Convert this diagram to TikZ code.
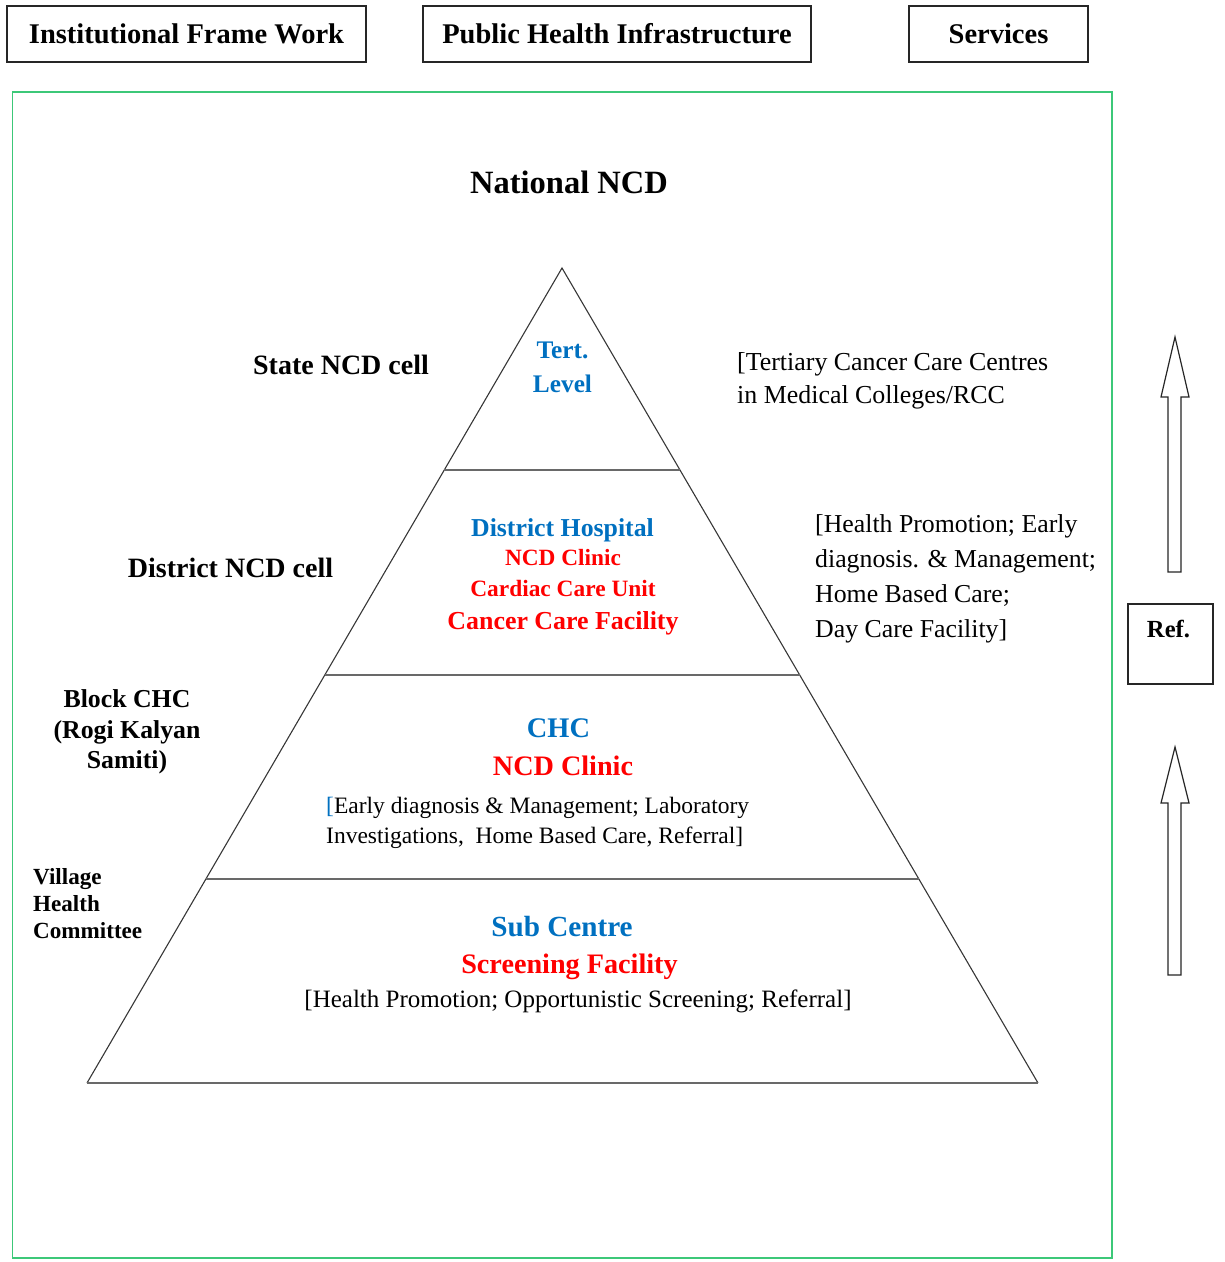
\documentclass[tikz,border=0pt]{standalone}
\usepackage{fontspec}
\setmainfont{Liberation Serif}
\usetikzlibrary{calc}
\definecolor{tierblue}{RGB}{0,112,192}
\definecolor{tierred}{RGB}{255,0,0}
\definecolor{framegreen}{RGB}{60,200,120}
\definecolor{edgegray}{RGB}{55,55,55}
\definecolor{bandgray}{RGB}{105,105,105}
\newcommand\fsz[2]{\fontsize{#1}{#2}\selectfont}

\begin{document}
\begin{tikzpicture}[x=1pt,y=-1pt,
  topbox/.style={draw=black!85, line width=1.2pt, inner sep=0pt,
    minimum height=56pt, font=\bfseries\fsz{28.5}{34},
    text height=18pt, text depth=0pt},
  lbl/.style={inner sep=0pt, anchor=base},
  lblw/.style={inner sep=0pt, anchor=base west, align=left},
  side/.style={draw=edgegray, line width=1.1pt},
  band/.style={draw=bandgray, line width=1.8pt},
  hollow/.style={draw=black!85, line width=1.2pt, fill=white, line join=miter}
]
\useasboundingbox (0,0) rectangle (1225,1262);

% header boxes
\node[topbox, minimum width=359pt] (ifw) at (186.5,34) {Institutional Frame Work};
\node[topbox, minimum width=388pt] (phi) at (617,34) {Public Health Infrastructure};
\node[topbox, minimum width=179pt] (srv) at (998.5,34) {Services};

% outer frame
\draw[framegreen, line width=1.2pt] (12.5,92) rectangle (1112,1258);

% pyramid
\coordinate (apex) at (562,268);
\coordinate (bl) at (87,1083);
\coordinate (br) at (1038,1083);
\draw[side] (bl) -- (apex) -- (br);
\draw[band] (bl) -- (br);
\foreach \t/\n in {0.2479/a, 0.4994/b, 0.7497/c}{
  \coordinate (l\n) at ($(apex)!\t!(bl)$);
  \coordinate (r\n) at ($(apex)!\t!(br)$);
  \draw[band] (l\n) -- (r\n);
}

% title
\node[lbl, font=\bfseries\fsz{32.5}{39}] (national) at (569,193) {National NCD};

% institutional framework labels (multi-line nodes sit on their last baseline)
\node[lbl, font=\bfseries\fsz{28}{34}] (statecell) at (341,374) {State NCD cell};
\node[lbl, font=\bfseries\fsz{28}{34}] (distcell) at (230.5,577) {District NCD cell};
\node[lbl, align=center, font=\bfseries\fsz{25.8}{30.5}] (blockchc) at (127,768.5)
  {Block CHC\\(Rogi Kalyan\\Samiti)};
\node[lblw, font=\bfseries\fsz{23.1}{27}] (vhc) at (33,938)
  {Village\\Health\\Committee};

% tertiary level
\node[lbl, align=center, text=tierblue, font=\bfseries\fsz{25.3}{34}] (tert) at (562.5,392)
  {Tert.\\Level};
\node[lblw, font=\fsz{25.9}{33}] (tertsrv) at (737,403)
  {[Tertiary Cancer Care Centres\\in Medical Colleges/RCC};

% district level
\node[lbl, text=tierblue, font=\bfseries\fsz{25.8}{30}] (dh) at (562.5,536.5) {District Hospital};
\node[lbl, text=tierred, font=\bfseries\fsz{23.3}{28}] (dhncd) at (563,565.7) {NCD Clinic};
\node[lbl, text=tierred, font=\bfseries\fsz{23.4}{28}] (dhcard) at (563,596.7) {Cardiac Care Unit};
\node[lbl, text=tierred, font=\bfseries\fsz{25.9}{30}] (dhcancer) at (563,629.6) {Cancer Care Facility};
\node[lblw, font=\fsz{25.8}{35}] (distsrv) at (815,637.5)
  {[Health Promotion; Early\\diagnosis. \& Management;\\Home Based Care;\\Day Care Facility]};

% block level
\node[lbl, text=tierblue, font=\bfseries\fsz{28.4}{34}] (chc) at (558.5,737) {CHC};
\node[lbl, text=tierred, font=\bfseries\fsz{28.2}{34}] (chcncd) at (563,775) {NCD Clinic};
\node[lblw, font=\fsz{23.5}{30}] (chcsrv) at (326,843)
  {{\color{tierblue}[}Early diagnosis \& Management; Laboratory\\Investigations,\ \ Home Based Care, Referral]};

% village level
\node[lbl, text=tierblue, font=\bfseries\fsz{29.2}{35}] (subc) at (562,936.6) {Sub Centre};
\node[lbl, text=tierred, font=\bfseries\fsz{28.2}{34}] (screen) at (569.5,973) {Screening Facility};
\node[lbl, font=\fsz{25}{30}] (subsrv) at (578,1007)
  {[Health Promotion; Opportunistic Screening; Referral]};

% referral direction
\node[draw=black!85, line width=1.2pt, minimum width=85pt, minimum height=80pt, inner sep=0pt]
  (refbox) at (1170.5,644) {};
\node[lbl, font=\bfseries\fsz{24.6}{30}] (reftext) at (1168.5,637) {Ref.};
\draw[hollow] (1168,572) -- (1168,397) -- (1161,397) -- (1175,337) -- (1189,397)
  -- (1181,397) -- (1181,572) -- cycle;
\draw[hollow] (1168,975) -- (1168,803) -- (1161,803) -- (1175,747) -- (1189,803)
  -- (1181,803) -- (1181,975) -- cycle;
\end{tikzpicture}
\end{document}
